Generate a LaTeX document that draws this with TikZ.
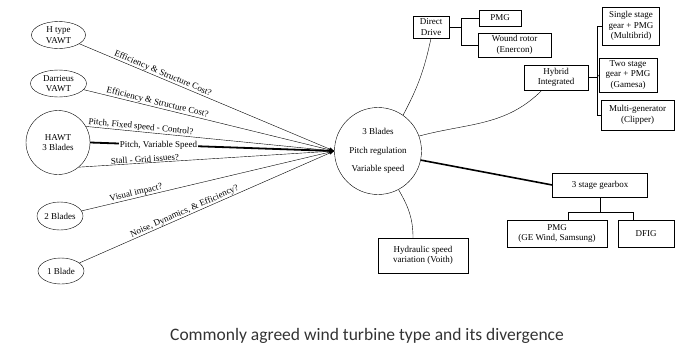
\documentclass[tikz,border=0pt]{standalone}
\usepackage{fontspec}
\setmainfont{Liberation Serif}
\newfontfamily\capfont{Carlito}
\usetikzlibrary{shapes.geometric,arrows.meta,calc}

\begin{document}
\begin{tikzpicture}[x=1pt,y=-1pt,
      font=\fontsize{9}{10.5}\selectfont,
      blade/.style={draw,ellipse,inner sep=0pt,align=center},
      box/.style={draw,rectangle,inner sep=1pt,align=center},
      lnk/.style={-{Latex[length=5pt,width=3.5pt]}},
      lbl/.style={sloped,above,inner sep=0.5pt}]
      \useasboundingbox (0,0) rectangle (676,354);

      % turbine types on the left
      \node[blade,minimum width=54pt,minimum height=27pt] (htype) at (58.5,35) {H type\\VAWT};
      \node[blade,minimum width=56pt,minimum height=27pt] (darr) at (58.5,83.5) {Darrieus\\VAWT};
      \node[blade,minimum width=64pt,minimum height=64pt] (hawt) at (58,142.5) {HAWT\\3 Blades};
      \node[blade,minimum width=46pt,minimum height=28pt] (two) at (60,216) {2 Blades};
      \node[blade,minimum width=46pt,minimum height=26pt] (one) at (61,271) {1 Blade};

      % the agreed type
      \node[draw,circle,minimum size=87pt,inner sep=0pt,align=center] (hub) at (378,151) {3 Blades\\[8pt]Pitch regulation\\[8pt]Variable speed};

      % drive trains
      \node[box,minimum width=36pt,minimum height=22pt] (dd) at (431,27) {Direct\\Drive};
      \node[box,minimum width=42pt,minimum height=16pt] (pmga) at (500,18) {PMG};
      \node[box,minimum width=73pt,minimum height=24pt] (wound) at (514.5,45) {Wound rotor\\(Enercon)};
      \node[box,minimum width=64pt,minimum height=25pt] (hyb) at (556,77.5) {Hybrid\\Integrated};
      \node[box,minimum width=57pt,minimum height=38pt] (single) at (631,26) {Single stage\\gear + PMG\\(Multibrid)};
      \node[box,minimum width=58pt,minimum height=34pt] (twostage) at (628,75) {Two stage\\gear + PMG\\(Gamesa)};
      \node[box,minimum width=73pt,minimum height=30pt] (multi) at (637.5,115) {Multi-generator\\(Clipper)};
      \node[box,minimum width=95pt,minimum height=24pt] (gear) at (600,185) {3 stage gearbox};
      \node[box,minimum width=100pt,minimum height=27pt] (pmgb) at (557,233.5) {PMG\\(GE Wind, Samsung)};
      \node[box,minimum width=56pt,minimum height=27pt] (dfig) at (646,233.5) {DFIG};
      \node[box,minimum width=90pt,minimum height=35pt] (hyd) at (423,255.5) {Hydraulic speed\\variation (Voith)};

      % divergence towards the agreed type
      \draw[lnk] (htype) -- node[lbl,pos=0.32] {Efficiency \& Structure Cost?} (hub.west);
      \draw[lnk] (darr) -- node[lbl,pos=0.29] {Efficiency \& Structure Cost?} (hub.west);
      \draw[lnk] (hawt.30) -- node[lbl,pos=0.22] {Pitch, Fixed speed - Control?} (hub.west);
      \draw[lnk,line width=1.8pt] (hawt.east) -- node[pos=0.28,fill=white,inner sep=1pt] {Pitch, Variable Speed} (hub.west);
      \draw[lnk] (hawt.-50) -- node[lbl,pos=0.26] {Stall - Grid issues?} (hub.west);
      \draw[lnk] (two) -- node[lbl,pos=0.22] {Visual impact?} (hub.west);
      \draw[lnk] (one) -- node[lbl,pos=0.42] {Noise, Dynamics, \& Efficiency?} (hub.west);

      % links to drive trains
      \draw (hub.55) to[bend right=8] (dd.south);
      \draw (hub.20) to[out=15,in=225] ([xshift=-14pt]hyb.south);
      \draw[line width=1.6pt] (hub.-12) -- (gear.west);
      \draw (hub.-62) to[out=-60,in=90] ([xshift=-10pt]hyd.north);

      % brackets
      \draw (dd.east) -- ++(12,0) coordinate (ddj);
      \draw (pmga.west) -| (ddj) |- (wound.west);
      \draw (hyb.east) -- ++(9,0) coordinate (hybj);
      \draw (single.west) -| (hybj) |- (multi.west);
      \draw (hybj) -- (twostage.west);
      \draw (gear.south) -- ++(0,15) coordinate (gj);
      \draw ([xshift=11pt]pmgb.north) |- (gj) -| ([xshift=-13pt]dfig.north);

      \node[font=\capfont\fontsize{17.5}{20}\selectfont,text=black!80] (cap) at (367,336) {Commonly agreed wind turbine type and its divergence};
\end{tikzpicture}
\end{document}
